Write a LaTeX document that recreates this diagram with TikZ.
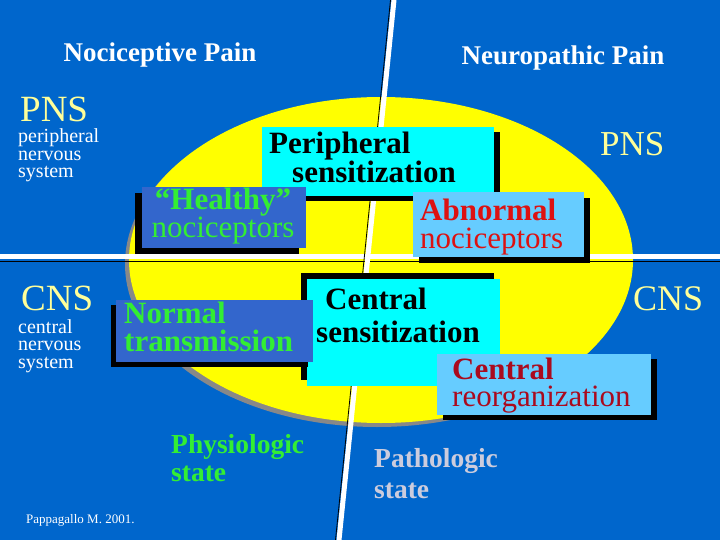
\documentclass[tikz,border=0pt]{standalone}
\usepackage{fontspec}
\setmainfont{Liberation Serif}
\usetikzlibrary{positioning,shadows}

\definecolor{bgblue}{HTML}{0066CC}
\definecolor{boxblue}{HTML}{3366CC}
\definecolor{cyanbox}{HTML}{00FFFF}
\definecolor{skybox}{HTML}{66CCFF}
\definecolor{ovalyellow}{HTML}{FFFF00}
\definecolor{ovalgray}{HTML}{888888}
\definecolor{labelyellow}{HTML}{FFFF99}
\definecolor{okgreen}{HTML}{33EE33}
\definecolor{badred}{HTML}{DD1111}
\definecolor{darkred}{HTML}{AA0A1E}
\definecolor{palegray}{HTML}{CCCCDD}

\begin{document}
\begin{tikzpicture}[x=1pt,y=-1pt,
    box/.style={inner sep=0pt,outer sep=0pt,anchor=north west},
    blackshadow/.style 2 args={drop shadow={shadow xshift=#1,shadow yshift=#2,opacity=1,fill=black}},
    hdr/.style={font=\fontsize{27}{30}\selectfont\bfseries,text=white,anchor=base,inner sep=0pt},
    nslabel/.style={font=\fontsize{37}{37}\selectfont,text=labelyellow,anchor=base west,inner sep=0pt},
    note/.style={font=\fontsize{20}{17.5}\selectfont,text=white,anchor=base west,align=left,inner sep=0pt},
    boxtext/.style={font=\fontsize{31}{28}\selectfont,anchor=base west,align=left,inner sep=0pt},
    state/.style={font=\fontsize{27.5}{28}\selectfont\bfseries,anchor=base west,align=left,inner sep=0pt}]
  \fill[bgblue] (0,0) rectangle (720,540);
  \useasboundingbox (0,0) rectangle (720,540);

  % oval with its grey rim
  \fill[ovalgray] (377,264) ellipse [x radius=252, y radius=163];
  \fill[ovalyellow] (381,260) ellipse [x radius=252, y radius=163];

  % quadrant lines
  \draw[white,line width=5pt] (0,256.5) -- (720,256.5);
  \draw[black,line width=1pt] (0,261) -- (720,261);
  \draw[white,line width=5pt] (394,0) -- (339,540);
  \draw[black,line width=0.8pt] (390.5,0) -- (335.5,540);

  % headings (multi-line texts sit on their last baseline)
  \node[hdr] (nocihead) at (160,62) {Nociceptive Pain};
  \node[hdr] (neurohead) at (563,65) {Neuropathic Pain};
  \node[nslabel] (pnsleft) at (20,122) {PNS};
  \node[note] (pnsnote) at (18,178) {peripheral\\nervous\\system};
  \node[nslabel] (cnsleft) at (21,310) {CNS};
  \node[note] (cnsnote) at (18,368) {central\\nervous\\system};
  \node[nslabel,font=\fontsize{35}{35}\selectfont] (pnsright) at (600,156) {PNS};
  \node[nslabel,font=\fontsize{36}{36}\selectfont] (cnsright) at (633,310) {CNS};

  % boxes, each with its black shadow
  \node[box,fill=cyanbox,minimum width=232,minimum height=69,blackshadow={6pt}{-5pt}] (perbox) at (262,127) {};
  \node[boxtext,font=\fontsize{31}{28}\selectfont\bfseries] (pertext) at (269,183) {Peripheral\\\hspace{23pt}sensitization};

  \node[box,fill=boxblue,minimum width=164,minimum height=61,blackshadow={-7pt}{-6pt}] (healthybox) at (142,187) {};
  \node[boxtext,anchor=base,align=center,text=okgreen] (healthytext) at (223,237) {{\bfseries “Healthy”}\\nociceptors};

  \node[box,fill=skybox,minimum width=171,minimum height=65,blackshadow={6pt}{-6pt}] (abnbox) at (413,192) {};
  \node[boxtext,text=badred] (abntext) at (420,248) {{\bfseries Abnormal}\\nociceptors};

  \node[box,fill=cyanbox,minimum width=193,minimum height=107,blackshadow={-6pt}{6pt}] (censbox) at (307,279) {};
  \node[boxtext,font=\fontsize{31}{28}\selectfont\bfseries] (censtext) at (316,342) {\hspace{9pt}Central\\[5pt]sensitization};

  \node[box,fill=boxblue,minimum width=197,minimum height=62,blackshadow={-5pt}{-5pt}] (normbox) at (116,300) {};
  \node[boxtext,font=\fontsize{31}{28}\selectfont\bfseries,text=okgreen] (normtext) at (124,351) {Normal\\transmission};

  \node[box,fill=skybox,minimum width=214,minimum height=61,blackshadow={6pt}{-5pt}] (reorgbox) at (437,354) {};
  \node[boxtext,font=\fontsize{31}{27}\selectfont,text=darkred] (reorgtext) at (452,406) {{\bfseries Central}\\reorganization};

  % states and source
  \node[state,text=okgreen] (physio) at (171,481) {Physiologic\\state};
  \node[state,text=palegray,font=\fontsize{27.5}{31}\selectfont\bfseries] (patho) at (374,498) {Pathologic\\state};
  \node[anchor=base west,inner sep=0pt,text=white,font=\fontsize{13}{13}\selectfont] (source) at (26,523) {Pappagallo M. 2001.};
\end{tikzpicture}
\end{document}
